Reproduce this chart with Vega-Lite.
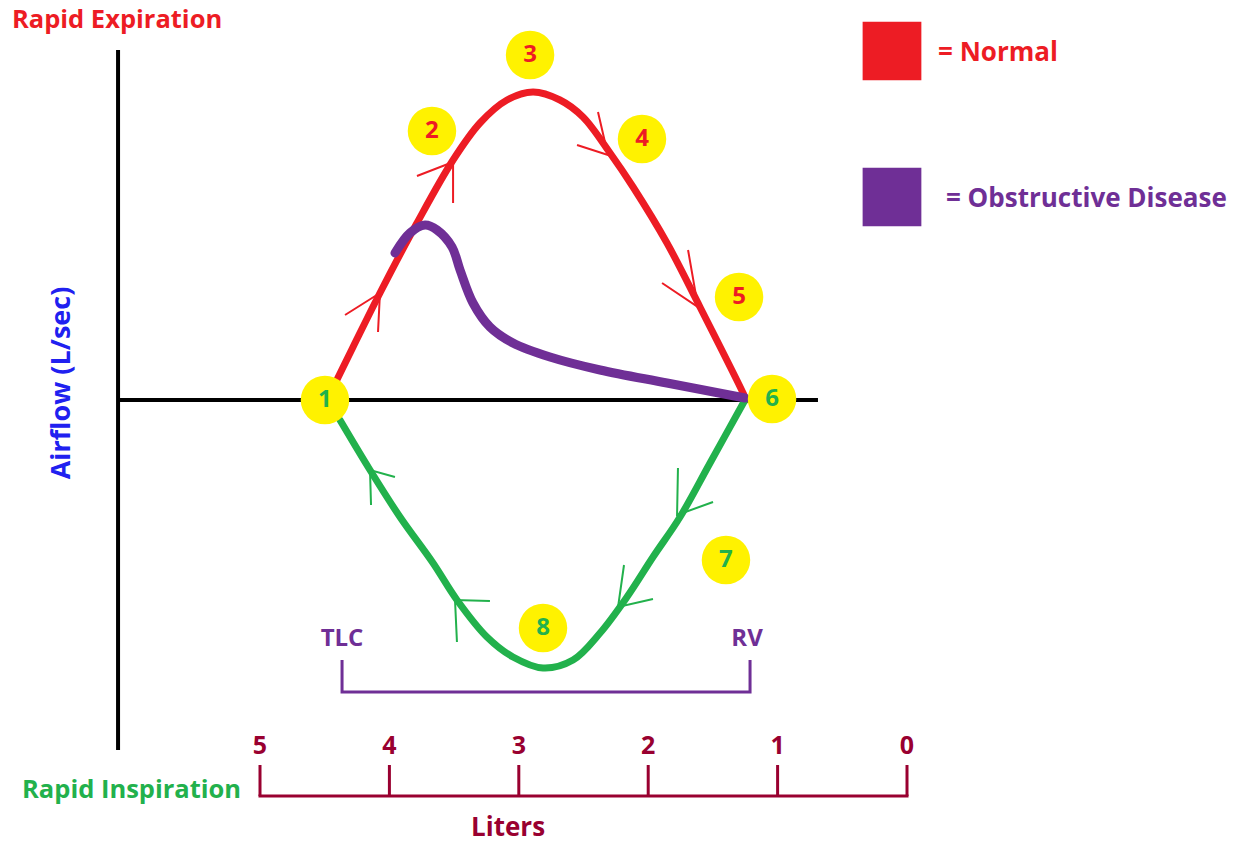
{
  "$schema": "https://vega.github.io/schema/vega-lite/v6.json",
  "width": 1233,
  "height": 845,
  "padding": 0,
  "autosize": {"type": "fit", "contains": "padding"},
  "background": "white",
  "config": {"view": {"stroke": null}, "font": "Open Sans"},
  "datasets": {
    "axes": [
      {"line": "airflow", "group": "Axis", "order": 1, "L": 6.097, "A": 7.0},
      {"line": "airflow", "group": "Axis", "order": 2, "L": 6.097, "A": -7.0},
      {"line": "zero", "group": "Axis", "order": 1, "L": 6.097, "A": 0},
      {"line": "zero", "group": "Axis", "order": 2, "L": 0.688, "A": 0}
    ],
    "normal": [
      {"group": "Expiration", "order": 1, "L": 4.482, "A": 0},
      {"group": "Expiration", "order": 2, "L": 4.281, "A": 1.06},
      {"group": "Expiration", "order": 3, "L": 4.073, "A": 2.14},
      {"group": "Expiration", "order": 4, "L": 3.787, "A": 3.54},
      {"group": "Expiration", "order": 5, "L": 3.508, "A": 4.8},
      {"group": "Expiration", "order": 6, "L": 3.3, "A": 5.54},
      {"group": "Expiration", "order": 7, "L": 3.091, "A": 6.0},
      {"group": "Expiration", "order": 8, "L": 2.89, "A": 6.16},
      {"group": "Expiration", "order": 9, "L": 2.682, "A": 6.0},
      {"group": "Expiration", "order": 10, "L": 2.504, "A": 5.66},
      {"group": "Expiration", "order": 11, "L": 2.295, "A": 4.94},
      {"group": "Expiration", "order": 12, "L": 2.117, "A": 4.26},
      {"group": "Expiration", "order": 13, "L": 1.855, "A": 3.14},
      {"group": "Expiration", "order": 14, "L": 1.6, "A": 1.86},
      {"group": "Expiration", "order": 15, "L": 1.267, "A": 0.14},
      {"group": "Expiration", "order": 16, "L": 1.244, "A": 0},
      {"group": "Inspiration", "order": 1, "L": 4.382, "A": -0.4},
      {"group": "Inspiration", "order": 2, "L": 4.15, "A": -1.4},
      {"group": "Inspiration", "order": 3, "L": 3.918, "A": -2.34},
      {"group": "Inspiration", "order": 4, "L": 3.663, "A": -3.26},
      {"group": "Inspiration", "order": 5, "L": 3.478, "A": -4.0},
      {"group": "Inspiration", "order": 6, "L": 3.246, "A": -4.74},
      {"group": "Inspiration", "order": 7, "L": 3.045, "A": -5.14},
      {"group": "Inspiration", "order": 8, "L": 2.813, "A": -5.36},
      {"group": "Inspiration", "order": 9, "L": 2.581, "A": -5.2},
      {"group": "Inspiration", "order": 10, "L": 2.372, "A": -4.66},
      {"group": "Inspiration", "order": 11, "L": 2.164, "A": -3.94},
      {"group": "Inspiration", "order": 12, "L": 1.963, "A": -3.14},
      {"group": "Inspiration", "order": 13, "L": 1.754, "A": -2.34},
      {"group": "Inspiration", "order": 14, "L": 1.522, "A": -1.26},
      {"group": "Inspiration", "order": 15, "L": 1.252, "A": 0}
    ],
    "obstructive": [
      {"group": "Obstructive", "order": 1, "L": 3.957, "A": 2.94},
      {"group": "Obstructive", "order": 2, "L": 3.841, "A": 3.34},
      {"group": "Obstructive", "order": 3, "L": 3.725, "A": 3.5},
      {"group": "Obstructive", "order": 4, "L": 3.632, "A": 3.4},
      {"group": "Obstructive", "order": 5, "L": 3.516, "A": 3.06},
      {"group": "Obstructive", "order": 6, "L": 3.454, "A": 2.6},
      {"group": "Obstructive", "order": 7, "L": 3.354, "A": 1.94},
      {"group": "Obstructive", "order": 8, "L": 3.223, "A": 1.46},
      {"group": "Obstructive", "order": 9, "L": 3.045, "A": 1.14},
      {"group": "Obstructive", "order": 10, "L": 2.759, "A": 0.86},
      {"group": "Obstructive", "order": 11, "L": 2.372, "A": 0.6},
      {"group": "Obstructive", "order": 12, "L": 1.855, "A": 0.34},
      {"group": "Obstructive", "order": 13, "L": 1.252, "A": 0.04}
    ],
    "arrows": [
      {"arrow": "a", "group": "Expiration", "order": 1, "L": 4.343, "A": 1.7},
      {"arrow": "a", "group": "Expiration", "order": 2, "L": 4.073, "A": 2.14},
      {"arrow": "a", "group": "Expiration", "order": 3, "L": 4.088, "A": 1.36},
      {"arrow": "b", "group": "Expiration", "order": 1, "L": 3.787, "A": 4.48},
      {"arrow": "b", "group": "Expiration", "order": 2, "L": 3.508, "A": 4.76},
      {"arrow": "b", "group": "Expiration", "order": 3, "L": 3.508, "A": 3.94},
      {"arrow": "c", "group": "Expiration", "order": 1, "L": 2.388, "A": 5.76},
      {"arrow": "c", "group": "Expiration", "order": 2, "L": 2.311, "A": 4.9},
      {"arrow": "c", "group": "Expiration", "order": 3, "L": 2.55, "A": 5.1},
      {"arrow": "d", "group": "Expiration", "order": 1, "L": 1.692, "A": 3.0},
      {"arrow": "d", "group": "Expiration", "order": 2, "L": 1.615, "A": 1.86},
      {"arrow": "d", "group": "Expiration", "order": 3, "L": 1.893, "A": 2.34},
      {"arrow": "e", "group": "Inspiration", "order": 1, "L": 3.957, "A": -1.54},
      {"arrow": "e", "group": "Inspiration", "order": 2, "L": 4.15, "A": -1.4},
      {"arrow": "e", "group": "Inspiration", "order": 3, "L": 4.142, "A": -2.1},
      {"arrow": "f", "group": "Inspiration", "order": 1, "L": 3.223, "A": -4.02},
      {"arrow": "f", "group": "Inspiration", "order": 2, "L": 3.493, "A": -4.0},
      {"arrow": "f", "group": "Inspiration", "order": 3, "L": 3.478, "A": -4.84},
      {"arrow": "g", "group": "Inspiration", "order": 1, "L": 1.77, "A": -1.36},
      {"arrow": "g", "group": "Inspiration", "order": 2, "L": 1.777, "A": -2.3},
      {"arrow": "g", "group": "Inspiration", "order": 3, "L": 1.499, "A": -2.04},
      {"arrow": "h", "group": "Inspiration", "order": 1, "L": 2.187, "A": -3.3},
      {"arrow": "h", "group": "Inspiration", "order": 2, "L": 2.233, "A": -4.14},
      {"arrow": "h", "group": "Inspiration", "order": 3, "L": 1.963, "A": -3.98}
    ],
    "bracket": [
      {"group": "Obstructive", "order": 1, "L": 4.366, "A": -5.2},
      {"group": "Obstructive", "order": 2, "L": 4.366, "A": -5.84},
      {"group": "Obstructive", "order": 3, "L": 1.213, "A": -5.84},
      {"group": "Obstructive", "order": 4, "L": 1.213, "A": -5.2}
    ],
    "literBar": [
      {"group": "Liters", "order": 1, "L": 5, "A": -7.92},
      {"group": "Liters", "order": 2, "L": 0, "A": -7.92}
    ],
    "ticks": [
      {"label": "5", "L": 5, "A": -7.92, "top": -7.3, "lab": -6.92, "group": "Liters"},
      {"label": "4", "L": 4, "A": -7.92, "top": -7.3, "lab": -6.92, "group": "Liters"},
      {"label": "3", "L": 3, "A": -7.92, "top": -7.3, "lab": -6.92, "group": "Liters"},
      {"label": "2", "L": 2, "A": -7.92, "top": -7.3, "lab": -6.92, "group": "Liters"},
      {"label": "1", "L": 1, "A": -7.92, "top": -7.3, "lab": -6.92, "group": "Liters"},
      {"label": "0", "L": 0, "A": -7.92, "top": -7.3, "lab": -6.92, "group": "Liters"}
    ],
    "stages": [
      {"stage": "1", "group": "Inspiration", "L": 4.498, "A": 0},
      {"stage": "2", "group": "Expiration", "L": 3.671, "A": 5.38},
      {"stage": "3", "group": "Expiration", "L": 2.913, "A": 6.9},
      {"stage": "4", "group": "Expiration", "L": 2.048, "A": 5.22},
      {"stage": "5", "group": "Expiration", "L": 1.298, "A": 2.06},
      {"stage": "6", "group": "Inspiration", "L": 1.043, "A": 0.02},
      {"stage": "7", "group": "Inspiration", "L": 1.399, "A": -3.2},
      {"stage": "8", "group": "Inspiration", "L": 2.813, "A": -4.56}
    ],
    "keys": [
      {"group": "Expiration", "L": 0.116, "A": 6.98},
      {"group": "Obstructive", "L": 0.116, "A": 4.06}
    ],
    "leftText": [
      {"text": "Rapid Expiration", "group": "Expiration", "L": 6.917, "A": 7.6, "kind": "corner"},
      {"text": "Rapid Inspiration", "group": "Inspiration", "L": 6.839, "A": -7.8, "kind": "corner"},
      {"text": "= Normal", "group": "Expiration", "L": -0.24, "A": 6.94, "kind": "key"},
      {"text": "= Obstructive Disease", "group": "Obstructive", "L": -0.301, "A": 4.02, "kind": "key"}
    ],
    "centerText": [
      {"text": "TLC", "group": "Obstructive", "L": 4.366, "A": -4.78},
      {"text": "RV", "group": "Obstructive", "L": 1.236, "A": -4.78}
    ],
    "xTitle": [
      {"text": "Liters", "group": "Liters", "L": 3.083, "A": -8.56}
    ],
    "yTitle": [
      {"text": "Airflow (L/sec)", "group": "Airflow", "L": 6.53, "A": 0.34}
    ]
  },
  "encoding": {
    "x": {"field": "L", "type": "quantitative", "scale": {"domain": [7.0093, -2.5193], "nice": false, "zero": false}, "axis": null},
    "y": {"field": "A", "type": "quantitative", "scale": {"domain": [-8.9, 8], "nice": false, "zero": false}, "axis": null},
    "color": {
      "field": "group", "type": "nominal", "legend": null,
      "scale": {
        "domain": ["Expiration", "Inspiration", "Obstructive", "Axis", "Liters", "Airflow"],
        "range": ["#ED1C24", "#22B14C", "#6F2F96", "#000000", "#990030", "#2020F0"]
      }
    }
  },
  "layer": [
    {
      "data": {"name": "axes"},
      "mark": {"type": "line", "strokeWidth": 4, "strokeCap": "butt"},
      "encoding": {"detail": {"field": "line"}, "order": {"field": "order"}}
    },
    {
      "data": {"name": "normal"},
      "mark": {"type": "line", "strokeWidth": 7, "interpolate": "catmull-rom", "strokeCap": "round"},
      "encoding": {"order": {"field": "order"}}
    },
    {
      "data": {"name": "obstructive"},
      "mark": {"type": "line", "strokeWidth": 9, "interpolate": "catmull-rom", "strokeCap": "round"},
      "encoding": {"order": {"field": "order"}}
    },
    {
      "data": {"name": "arrows"},
      "mark": {"type": "line", "strokeWidth": 2},
      "encoding": {"detail": {"field": "arrow"}, "order": {"field": "order"}}
    },
    {
      "data": {"name": "bracket"},
      "mark": {"type": "line", "strokeWidth": 3},
      "encoding": {"order": {"field": "order"}}
    },
    {
      "data": {"name": "literBar"},
      "mark": {"type": "line", "strokeWidth": 3, "strokeCap": "square"},
      "encoding": {"order": {"field": "order"}}
    },
    {
      "data": {"name": "ticks"},
      "mark": {"type": "rule", "strokeWidth": 3},
      "encoding": {"y2": {"field": "top"}}
    },
    {
      "data": {"name": "ticks"},
      "mark": {"type": "text", "fontSize": 25, "fontWeight": "bold"},
      "encoding": {"y": {"field": "lab", "type": "quantitative"}, "text": {"field": "label"}}
    },
    {
      "data": {"name": "stages"},
      "mark": {"type": "point", "filled": true, "size": 2350, "opacity": 1},
      "encoding": {"color": {"value": "#FFF200"}}
    },
    {
      "data": {"name": "stages"},
      "mark": {"type": "text", "fontSize": 24, "fontWeight": "bold"},
      "encoding": {"text": {"field": "stage"}}
    },
    {
      "data": {"name": "keys"},
      "mark": {"type": "point", "shape": "square", "filled": true, "size": 3450, "opacity": 1}
    },
    {
      "data": {"name": "leftText"},
      "transform": [{"filter": "datum.kind == 'corner'"}],
      "mark": {"type": "text", "align": "left", "fontSize": 25.5, "fontWeight": "bold"},
      "encoding": {"text": {"field": "text"}}
    },
    {
      "data": {"name": "leftText"},
      "transform": [{"filter": "datum.kind == 'key'"}],
      "mark": {"type": "text", "align": "left", "fontSize": 26, "fontWeight": "bold"},
      "encoding": {"text": {"field": "text"}}
    },
    {
      "data": {"name": "centerText"},
      "mark": {"type": "text", "fontSize": 24, "fontWeight": "bold"},
      "encoding": {"text": {"field": "text"}}
    },
    {
      "data": {"name": "xTitle"},
      "mark": {"type": "text", "fontSize": 26, "fontWeight": "bold"},
      "encoding": {"text": {"field": "text"}}
    },
    {
      "data": {"name": "yTitle"},
      "mark": {"type": "text", "fontSize": 27, "fontWeight": "bold", "angle": 270},
      "encoding": {"text": {"field": "text"}}
    }
  ]
}
